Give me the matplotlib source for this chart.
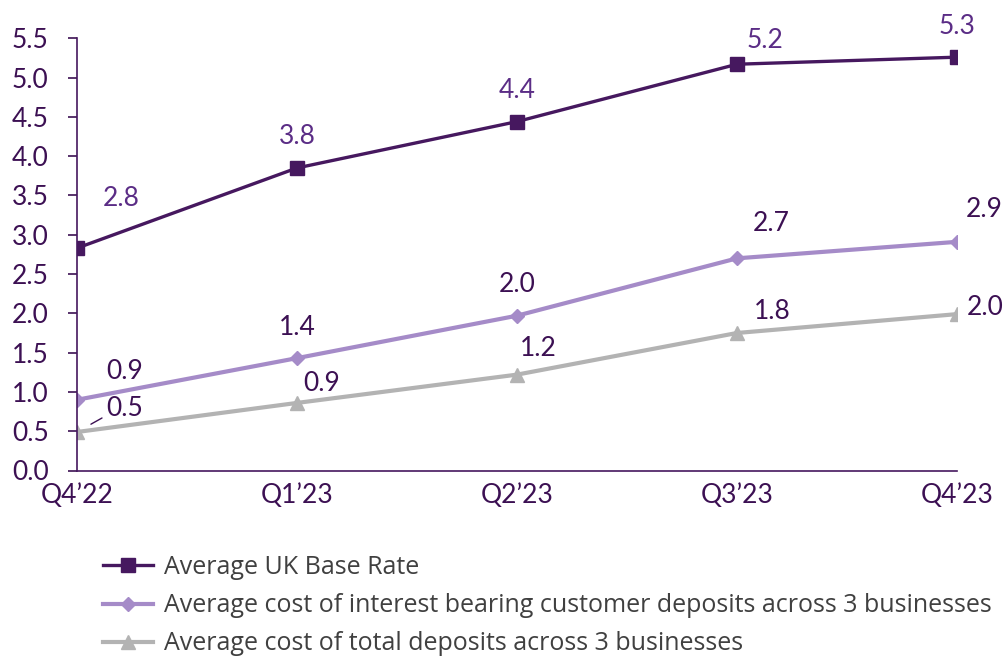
import matplotlib
matplotlib.use("Agg")
import matplotlib.pyplot as plt

plt.rcParams['font.family'] = ['Lato', 'DejaVu Sans']

quarters = ["Q4\u201922", "Q1\u201923", "Q2\u201923", "Q3\u201923", "Q4\u201923"]
base_rate = [2.83, 3.85, 4.44, 5.17, 5.26]
interest_deposits = [0.90, 1.43, 1.97, 2.70, 2.91]
total_deposits = [0.49, 0.86, 1.22, 1.75, 1.99]

base_labels = ["2.8", "3.8", "4.4", "5.2", "5.3"]
interest_labels = ["0.9", "1.4", "2.0", "2.7", "2.9"]
total_labels = ["0.5", "0.9", "1.2", "1.8", "2.0"]

series_names = [
    "Average UK Base Rate",
    "Average cost of interest bearing customer deposits across 3 businesses",
    "Average cost of total deposits across 3 businesses",
]

DARK = "#46185f"
LIGHT = "#a58bc8"
GREY = "#b3b3b3"
TEXT = "#3c1053"
LABEL_BASE = "#5b2d86"

W, H = 1008, 656
fig = plt.figure(figsize=(W / 100, H / 100), dpi=100)
ax = fig.add_axes([77 / W, 1 - 470.5 / H, (957 - 77) / W, (470.5 - 38.3) / H])

x = list(range(len(quarters)))
ax.plot(x, base_rate, color=DARK, lw=2.4, marker="s", ms=10, label=series_names[0])
ax.plot(x, interest_deposits, color=LIGHT, lw=3, marker="D", ms=7.5, label=series_names[1])
ax.plot(x, total_deposits, color=GREY, lw=3, marker="^", ms=10, label=series_names[2])

# label offsets in pixels (dx, dy of the label centre above the point)
base_off = [(44, 52), (0, 33), (0, 33), (28, 26), (0, 33)]
int_off = [(48, 30), (0, 33), (0, 33), (34, 37), (27, 34)]
tot_off = [(48, 25), (25, 21), (21, 28), (35, 23), (28, 9)]

def put_labels(vals, labels, offs, color):
    for i, (v, lab, (dx, dy)) in enumerate(zip(vals, labels, offs)):
        ax.annotate(lab, (i, v), xytext=(dx * 0.72, (dy - 9.5) * 0.72), textcoords="offset points",
                    ha="center", va="baseline", fontsize=19, color=color, annotation_clip=False)

put_labels(base_rate, base_labels, base_off, LABEL_BASE)
put_labels(interest_deposits, interest_labels, int_off, TEXT)
put_labels(total_deposits, total_labels, tot_off, TEXT)

# short leader line next to the first total deposits label
ax.annotate("", xy=(0, total_deposits[0]), xytext=(25 * 0.72, 14 * 0.72), textcoords="offset points",
            arrowprops=dict(arrowstyle="-", color=TEXT, lw=1, shrinkA=0, shrinkB=11.5))

ax.set_xlim(0, 4)
ax.set_ylim(0, 5.5)
yticks = [i * 0.5 for i in range(12)]
ax.set_yticks(yticks)
ax.set_yticklabels([f"{t:.1f}" for t in yticks])
ax.set_xticks(x)
ax.set_xticklabels(quarters)
ax.tick_params(axis="y", colors=TEXT, labelsize=19, length=6.5, width=1.2, pad=14)
ax.tick_params(axis="x", colors=TEXT, labelsize=19, length=0, pad=9)
for side in ["top", "right"]:
    ax.spines[side].set_visible(False)
for side in ["left", "bottom"]:
    ax.spines[side].set_color(DARK)
    ax.spines[side].set_linewidth(1.2)

leg = fig.legend(loc="upper left", bbox_to_anchor=(103 / W, 1 - 555 / H), frameon=False,
                 prop={"family": ["Open Sans", "DejaVu Sans"], "size": 18},
                 labelspacing=0.53, handlelength=2.0, handletextpad=0.45,
                 borderaxespad=0, borderpad=0)
for t in leg.get_texts():
    t.set_color("#404040")

fig.savefig("out.png", dpi=100)
